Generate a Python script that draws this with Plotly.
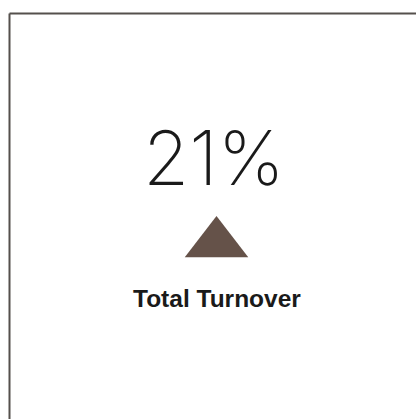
import plotly.graph_objects as go

# KPI card content
kpi_values = [21]
kpi_labels = ["Total Turnover"]
kpi_directions = ["up"]

W, H = 416, 419
TRIANGLE_COLOR = "#655249"

value = kpi_values[0]
label = kpi_labels[0]
symbol = "triangle-up" if kpi_directions[0] == "up" else "triangle-down"

fig = go.Figure()

# Trend indicator glyph
fig.add_trace(go.Scatter(
    x=[216.5], y=[243.5],
    mode="markers",
    marker=dict(symbol=symbol, size=55, color=TRIANGLE_COLOR, line=dict(width=0)),
    hoverinfo="skip",
    showlegend=False,
))

# Headline number
fig.add_annotation(
    x=213.5, y=157, xref="x", yref="y",
    text=f"{value}%", showarrow=False,
    xanchor="center", yanchor="middle",
    font=dict(family="Inter", size=75, color="#1a1a1a", weight=250),
)

# Metric label
fig.add_annotation(
    x=216.5, y=298, xref="x", yref="y",
    text=f"<b>{label}</b>", showarrow=False,
    xanchor="center", yanchor="middle",
    font=dict(family="Liberation Sans", size=24.5, color="#1a1a1a"),
)

# Card frame (top and left edges)
frame = dict(color="#55504c", width=2)
fig.add_shape(type="line", x0=9.5, y0=13.5, x1=W + 5, y1=13.5, xref="x", yref="y", line=frame)
fig.add_shape(type="line", x0=9.5, y0=13.5, x1=9.5, y1=H + 5, xref="x", yref="y", line=frame)

fig.update_xaxes(range=[0, W], visible=False, fixedrange=True)
fig.update_yaxes(range=[H, 0], visible=False, fixedrange=True)
fig.update_layout(
    width=W, height=H, autosize=False,
    margin=dict(l=0, r=0, t=0, b=0),
    paper_bgcolor="white", plot_bgcolor="white",
)

fig.write_html("out.html", config={"displayModeBar": False})
